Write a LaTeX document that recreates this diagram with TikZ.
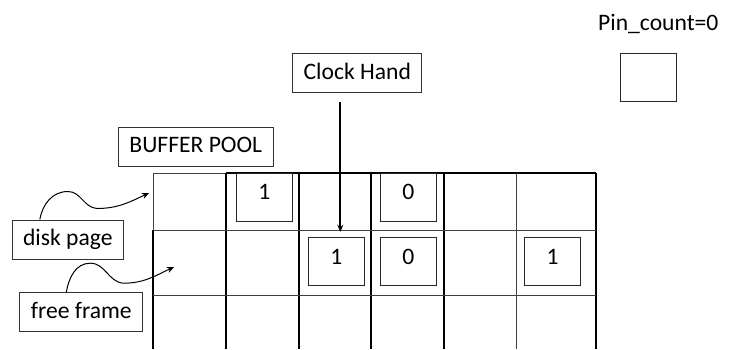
\documentclass[tikz,border=0pt]{standalone}
\usepackage{fontspec}
\setmainfont{Carlito}
\usepackage{tikz}
\usetikzlibrary{arrows.meta, calc}
\newcommand{\lblfont}{\fontsize{11.8}{14}\selectfont}

\begin{document}
\begin{tikzpicture}[x=0.5pt, y=-0.5pt,
    labelbox/.style={draw=black!80, line width=0.5pt, font=\lblfont, inner xsep=5.5pt, minimum height=19.5pt, text height=0.64em, text depth=0pt},
    countbox/.style={draw=black!85, line width=0.5pt, font=\lblfont, minimum width=28pt, minimum height=24pt, inner sep=0pt, text height=0.63em, text depth=0.34em},
    framethick/.style={line width=1pt},
    framethin/.style={line width=0.5pt, draw=black!75},
    pointer/.style={-{Stealth[length=3.5pt, width=3pt]}, line width=1pt},
    curvy/.style={-{Stealth[length=3.5pt, width=3pt]}, line width=0.5pt},
]
\useasboundingbox (0,0) rectangle (729,349);

% Buffer pool frames
\draw[framethin] (153,173) rectangle (226,230);
\draw[framethick] (226,173) -- (596,173);
\draw[framethick] (153,230) -- (153,349);
\foreach \x in {226,299,371,444,596}
    \draw[framethick] (\x,173) -- (\x,349);
\draw[framethin] (516,173) -- (516,349);
\foreach \y in {230,295}
    \draw[framethin] (153,\y) -- (596,\y);

% Pin counts
\node[countbox] (c12) at (264.3,197) {1};
\node[countbox] (c14) at (408.3,197) {0};
\node[countbox] (c23) at (336.3,261.3) {1};
\node[countbox] (c24) at (408.3,261.3) {0};
\node[countbox] (c26) at (552.7,261.3) {1};

% Labels
\node[labelbox] (pool) at (195.8,146.5) {BUFFER POOL};
\node[labelbox] (clock) at (357.3,73) {Clock Hand};
\node[labelbox] (disk) at (67.8,239.5) {disk page};
\node[labelbox] (free) at (81.3,312.2) {free frame};

% Legend
\node[font=\lblfont, text height=0.64em, text depth=0pt] (pintxt) at (658.3,24.5) {Pin\_count=0};
\node[countbox] (pinbox) at (648.3,77.2) {};

% Arrows
\coordinate (handtop) at (340.3,102);
\coordinate (diskcell) at (149,193);
\coordinate (freecell) at (174,267);
\draw[pointer, shorten >=2.5pt] (handtop) -- (handtop |- c23.north);
\draw[curvy] ($(disk.north)+(-28,0)$) to[out=80,in=180] ++(28,-28)
    to[out=0,in=175] ++(29,17) to[out=0,in=205] (diskcell);
\draw[curvy] ($(free.north)+(-15,0)$) to[out=80,in=180] ++(24,-29)
    to[out=0,in=175] ++(33,20) to[out=0,in=205] (freecell);
\end{tikzpicture}
\end{document}
